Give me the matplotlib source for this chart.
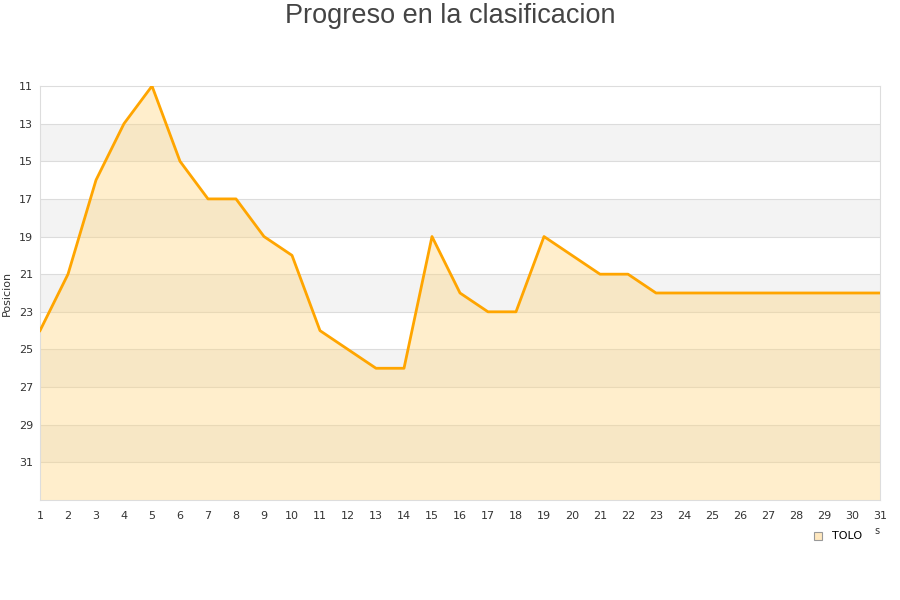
import numpy as np
import matplotlib.pyplot as plt

jornadas = list(range(1, 32))
posicion = [24, 21, 16, 13, 11, 15, 17, 17, 19, 20, 24, 25, 26, 26, 19, 22,
            23, 23, 19, 20, 21, 21, 22, 22, 22, 22, 22, 22, 22, 22, 22]
equipo = 'TOLO'
yticks = list(range(11, 32, 2))

fig = plt.figure(figsize=(9, 6), dpi=100)
ax = fig.add_axes([40/900, 100/600, 840/900, 414/600])

ymin, ymax = 11, 33
# bandas alternas
for y0 in range(13, ymax, 4):
    ax.axhspan(y0, y0 + 2, color='#f3f3f3', zorder=0, lw=0)
for y in yticks[1:]:
    ax.axhline(y, color='#dcdcdc', lw=0.8, zorder=1)

ax.fill_between(jornadas, posicion, ymax, color='#ffd580', alpha=0.4, lw=0, zorder=2)
ax.plot(jornadas, posicion, color='#ffa500', lw=2, zorder=3)

ax.set_xlim(1, 31)
ax.set_ylim(ymax, ymin)
ax.set_xticks(jornadas)
ax.set_yticks(yticks)
ax.tick_params(length=0, labelsize=8, colors='#333333', pad=8)
ax.tick_params(axis='y', pad=5)
for s in ax.spines.values():
    s.set_color('#dddddd')

ax.set_ylabel('Posicion', fontsize=8, color='#333333')
ax.yaxis.set_label_coords(-0.034, 0.5)

fig.text(0.5, 0.995, 'Progreso en la clasificacion', ha='center', va='top',
         fontsize=19.5, color='#444444', family='Liberation Sans')

# leyenda
fig.patches.append(plt.Rectangle((814/900, 1 - 540/600), 8/900, 8/600,
                                 transform=fig.transFigure, facecolor='#ffe8bf',
                                 edgecolor='#999999', lw=0.8))
fig.text(832/900, 1 - 536/600, equipo, fontsize=8, color='#000000', va='center')
fig.text(874/900, 1 - 531/600, 's', fontsize=7, color='#333333', va='center')

fig.savefig('out.png', dpi=100)
